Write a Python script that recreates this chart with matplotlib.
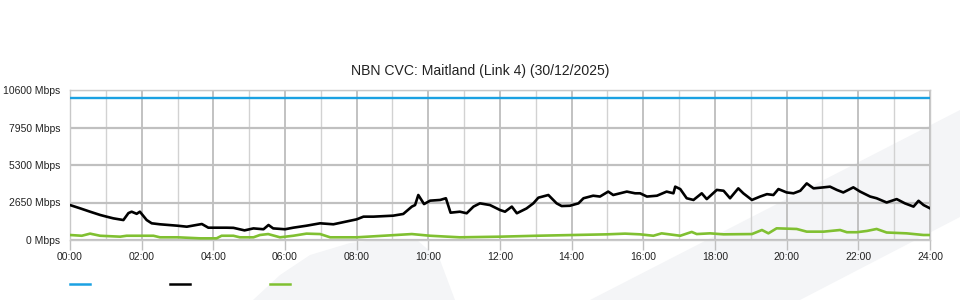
import matplotlib
matplotlib.use('Agg')
import matplotlib.pyplot as plt
from matplotlib.patches import Polygon
from matplotlib.lines import Line2D

plt.rcParams['font.family'] = ['Liberation Sans', 'DejaVu Sans']

title = 'NBN CVC: Maitland (Link 4) (30/12/2025)'

# capacity (blue)
cap_hours = [0, 24]
cap_mbps = [10000, 10000]

# download traffic (black), hours / Mbps
dl_hours = [0.0, 0.28, 0.56, 0.84, 1.02, 1.21, 1.49, 1.63, 1.72, 1.86, 1.95,
            2.14, 2.28, 2.51, 3.0, 3.26, 3.68, 3.86, 4.0, 4.37, 4.56, 4.87,
            5.12, 5.4, 5.54, 5.67, 6.0, 6.23, 6.6,
            6.98, 7.35, 8.0, 8.19, 8.47, 9.02, 9.3, 9.54, 9.63, 9.72, 9.88,
            10.05, 10.33, 10.49, 10.62, 10.88, 11.07, 11.26, 11.44, 11.72,
            12.0, 12.14, 12.33, 12.47, 12.74, 12.93, 13.07, 13.35, 13.58,
            13.72, 13.95, 14.19, 14.33, 14.6, 14.79, 15.02, 15.16, 15.35,
            15.54, 15.77,
            15.91, 16.1, 16.38, 16.65, 16.84, 16.89, 17.03, 17.21, 17.4,
            17.63, 17.77, 18.05, 18.24, 18.42, 18.65, 18.79, 19.03, 19.26,
            19.45, 19.63, 19.77, 20.0, 20.19, 20.38, 20.56, 20.75, 21.03,
            21.21, 21.4, 21.58, 21.86, 22.05, 22.33, 22.51, 22.79, 23.07,
            23.3, 23.54, 23.68, 23.82, 24.0]
dl_mbps = [2470, 2240, 2000, 1770, 1650, 1530, 1410, 1900, 2000, 1850, 2000,
           1410, 1180, 1110, 1010, 940, 1130, 870, 870, 870, 860, 680,
           820, 760, 1060, 820, 760, 870, 1010,
           1180, 1110, 1460, 1650, 1650, 1720, 1840, 2360, 2470, 3180, 2540,
           2780, 2830, 2950, 1930, 2000, 1890, 2360, 2590, 2470,
           2120, 2000, 2360, 1890, 2230, 2590, 2990, 3180, 2590,
           2400, 2420, 2590, 2950, 3130, 3070, 3420, 3180, 3300,
           3420, 3300,
           3300, 3070, 3130, 3420, 3300, 3770, 3600, 2950, 2830,
           3300, 2890, 3540, 3480, 2950, 3650, 3300, 2830, 3070,
           3240, 3180, 3600, 3360, 3300, 3480, 4000, 3650, 3720,
           3770, 3540, 3360, 3720, 3420, 3070, 2950, 2650, 2890,
           2590, 2360, 2770, 2470, 2240]

# upload traffic (green), hours / Mbps
ul_hours = [0.0, 0.33, 0.56, 0.84, 1.4, 1.58, 2.02, 2.33, 2.51, 3.01, 3.63,
            4.09, 4.23, 4.56, 4.74, 5.12, 5.3, 5.53, 5.86, 6.23, 6.6, 6.98,
            7.26, 8.0, 8.74, 9.54, 10.05, 10.88, 12.0, 13.02, 14.05, 14.98,
            15.49, 15.91, 16.28, 16.51, 17.03, 17.35, 17.49, 17.86, 18.24,
            19.03, 19.31, 19.49, 19.72, 20.28, 20.56, 21.03, 21.49, 21.68,
            21.96, 22.24, 22.51, 22.79, 23.35, 23.82, 24.0]
ul_mbps = [353, 300, 450, 300, 235, 300, 300, 300, 190, 190, 118,
           118, 300, 300, 190, 190, 353, 420, 190, 300, 450, 420,
           190, 190, 300, 420, 300, 190, 235, 300, 353, 400,
           450, 400, 300, 470, 300, 570, 420, 470, 400,
           420, 706, 470, 825, 779, 590, 590, 706, 550,
           550, 640, 779, 530, 470, 353, 353]

x_ticks = list(range(0, 25, 2))
x_labels = ['%02d:00' % h for h in x_ticks]
y_ticks = [0, 2650, 5300, 7950, 10600]
y_labels = ['%d Mbps' % v for v in y_ticks]

blue = '#1ba1e2'
green = '#80c031'

fig = plt.figure(figsize=(9.6, 3.0), dpi=100)
ax = fig.add_axes([70 / 960, 60 / 300, 860 / 960, 150 / 300])
ax.set_facecolor('none')

# faint background watermark
fig.patches.append(Polygon([(590 / 960, 0), (1, 190 / 300), (1, 83 / 300), (800 / 960, 0)],
                           closed=True, transform=fig.transFigure, facecolor='#f4f5f7',
                           edgecolor='none', zorder=-5))
fig.patches.append(Polygon([(253 / 960, 0), (280 / 960, 25 / 300), (310 / 960, 45 / 300),
                            (350 / 960, 57 / 300), (385 / 960, 61 / 300), (417 / 960, 60 / 300),
                            (440 / 960, 40 / 300), (455 / 960, 0)],
                           closed=True, transform=fig.transFigure, facecolor='#f4f5f7',
                           edgecolor='none', zorder=-5))

ax.plot(cap_hours, cap_mbps, color=blue, lw=1.7, zorder=3)
ax.plot(dl_hours, dl_mbps, color='black', lw=1.9, zorder=4)
ax.plot(ul_hours, ul_mbps, color=green, lw=1.9, zorder=3)

ax.set_xlim(0, 24)
ax.set_ylim(0, 10600)
ax.set_xticks(x_ticks)
ax.set_xticklabels(x_labels)
ax.set_xticks(range(25), minor=True)
ax.set_yticks(y_ticks)
ax.set_yticklabels(y_labels)

ax.grid(axis='y', color='#c0c0c0', lw=1.6)
ax.grid(axis='x', which='major', color='#bdbdbd', lw=1.3)
ax.grid(axis='x', which='minor', color='#d2d2d2', lw=1.0)
ax.set_axisbelow(True)

for s in ax.spines.values():
    s.set_color('#c8c8c8')
    s.set_linewidth(1.0)

ax.tick_params(axis='x', which='major', length=7, width=1, color='#c0c0c0',
               labelsize=7.5, pad=1.5, labelcolor='#222222')
ax.tick_params(axis='x', which='minor', length=0)
ax.tick_params(axis='y', length=0, labelsize=7.5, pad=7, labelcolor='#222222')

# title is centred on the whole image, not on the plot area
fig.text(0.5, 1 - 71 / 300, title, fontsize=10.1, color='#222222',
         ha='center', va='center')

handles = [Line2D([], [], color=blue, lw=1.8),
           Line2D([], [], color='black', lw=1.8),
           Line2D([], [], color=green, lw=1.8)]
fig.legend(handles, ['', '', ''], ncol=3, loc='center left',
           bbox_to_anchor=(70 / 960, 15 / 300), frameon=False, fontsize=8,
           handlelength=1.8, handletextpad=0.0, columnspacing=7.2,
           borderaxespad=0, borderpad=0)

fig.savefig('out.png', dpi=100)
